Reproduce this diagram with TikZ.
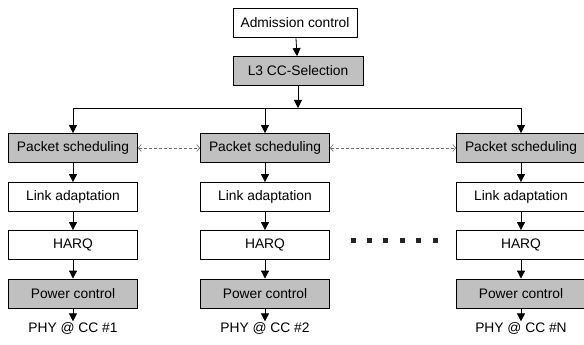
\documentclass[tikz,border=0pt]{standalone}
\usepackage{fontspec}
\setmainfont{Liberation Sans}
\usetikzlibrary{arrows.meta}
\definecolor{boxgray}{RGB}{192,192,192}
\definecolor{linkgray}{RGB}{110,110,110}
\tikzstyle{block}=[draw,line width=0.8pt,minimum width=129pt,minimum height=29pt,inner sep=0pt,font=\fontsize{13.8}{16}\selectfont]
\tikzstyle{grayblock}=[block,fill=boxgray]
\tikzstyle{flow}=[draw,line width=0.8pt,-{Triangle[length=8pt,width=8pt]}]
\tikzstyle{peer}=[draw,linkgray,line width=0.6pt,densely dashed,{Straight Barb[length=3pt,width=7pt]}-{Straight Barb[length=3pt,width=7pt]}]
\tikzstyle{phy}=[inner sep=1pt,font=\fontsize{13.8}{16}\selectfont]
\newcommand{\ccunit}{1pt}

\begin{document}
\begin{tikzpicture}[x=\ccunit, y=-\ccunit]
    \useasboundingbox (0,0) rectangle (584,345);
    % First the two common blocks on top
    \node[block, minimum width=124pt] (adm) at (295,22.5) {Admission control};
    \node[grayblock, minimum width=130pt] (l3) at (298,71) {L3 CC-Selection};
    \coordinate (split) at (298,108);
    % One column of blocks per component carrier
    \foreach \x/\c in {73/1, 265/2, 521/N} {
        \node[grayblock] (ps\c) at (\x,148) {Packet scheduling};
        \node[block] (la\c) at (\x,197) {Link adaptation};
        \node[block] (hq\c) at (\x,245) {HARQ};
        \node[grayblock] (pc\c) at (\x,293.5) {Power control};
        \node[phy] (phy\c) at (\x,328.5) {PHY @ CC \#\c};
    }
    % Connect the blocks
    \path[flow] (adm) -- (l3);
    \path[flow] (l3) -- (split);
    \draw[line width=0.8pt] (ps1 |- split) -- (psN |- split);
    \foreach \c in {1,2,N} {
        \path[flow] (ps\c |- split) -- (ps\c);
        \foreach \source/\dest in {ps/la, la/hq, hq/pc, pc/phy}
            \path[flow] (\source\c) -- (\dest\c);
    }
    % Exchange between the schedulers
    \path[peer] (ps1) -- (ps2);
    \path[peer] (ps2) -- (psN);
    % Carriers left out
    \foreach \x in {353,369.4,...,436}
        \fill[black!85] (\x,240) +(-2.5,-2.5) rectangle +(2.5,2.5);
\end{tikzpicture}
\end{document}
